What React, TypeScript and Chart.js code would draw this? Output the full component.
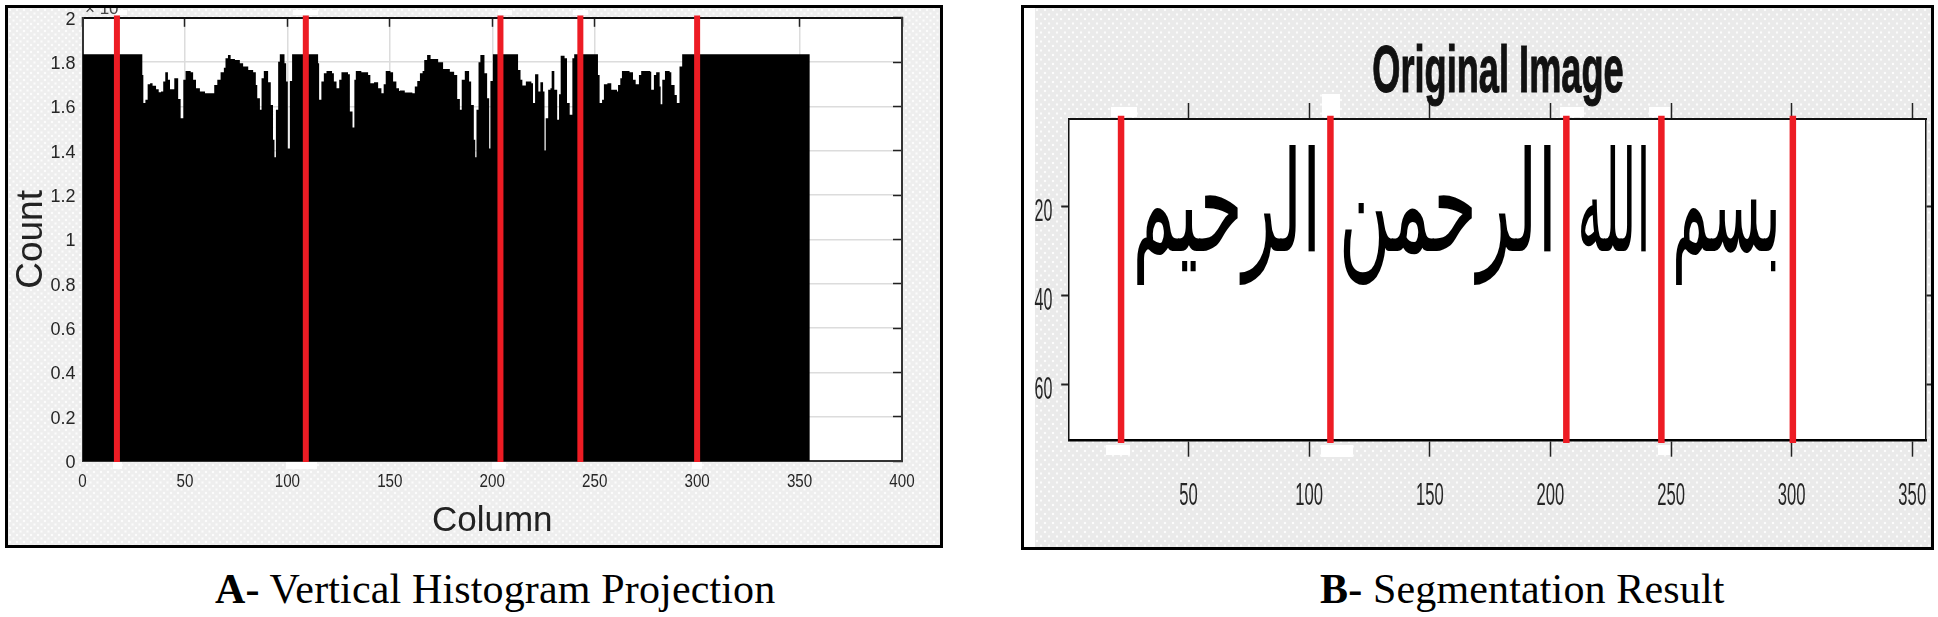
import React, { useEffect, useRef } from "react";
import { Chart, registerables } from "chart.js";

Chart.register(...registerables);

// ---------- data ----------
const histColumns = [0, 29.2, 29.7, 30.7, 31.8, 33, 34.2, 35.9, 37.2, 38.3, 39.4, 40.4, 41.7, 42.7, 44.8, 46.7, 47.9, 49.2, 50.3, 52.8, 54, 55.4, 57.3, 59.8, 63, 64.3, 65.8, 67.4, 69, 69.8, 71, 72.3, 74.4,
  76.8, 78.4, 80.9, 83.3, 84.6, 85.3, 86.6, 87.4, 88.5, 90.6, 91.9, 93, 93.7, 94.4, 95.5, 96.3, 98.6, 99.4, 100.2, 101.2, 102.3, 115, 115.5, 116.6, 117.8, 119.1, 121.8, 122.7, 124, 125.3, 126.4, 129.6, 130.5, 131.8, 132.7, 133.4, 136.1, 139.4, 140.5, 142.3, 144.3, 145.9, 147, 148, 150.3, 151.6, 153.2, 154.5,
  154.9, 157.3, 161, 162.2, 163.4, 164.7, 166, 166.8, 168.2, 169.9, 173.6, 176, 179.3, 181.4, 182.9, 184.2, 185.1, 186.6, 188.7, 189.7, 191, 191.7, 192.3, 193.3, 194.2, 196.2, 197.5, 198.5, 199.1, 200.3, 212.6, 213.8, 214.7, 216.4, 219.1, 219.9, 220.9, 222.5, 223.5, 224.8, 225.5, 226.1, 227.3, 228.4, 229, 230.3, 231.7, 232.6,
  233.4, 235.3, 236.5, 237.8, 239.1, 240, 251.6, 252.4, 253.6, 254.5, 256.2, 258.1, 260.9, 261.4, 262.5, 263.3, 267, 268.7, 270, 271.6, 272.7, 277.1, 277.6, 278.9, 280, 281.7, 282.2, 283, 284.3, 286.6, 287.4, 289, 290.1, 291.4, 292.7, 355];
const histCounts = [1.835, 1.742, 1.615, 1.63, 1.7, 1.705, 1.693, 1.678, 1.664, 1.667, 1.712, 1.754, 1.72, 1.678, 1.727, 1.634, 1.547, 1.72, 1.76, 1.754, 1.72, 1.682, 1.667, 1.66, 1.66, 1.697, 1.72, 1.754, 1.775, 1.817, 1.832, 1.814, 1.81,
  1.795, 1.78, 1.765, 1.754, 1.697, 1.637, 1.585, 1.727, 1.76, 1.709, 1.607, 1.45, 1.371, 1.585, 1.802, 1.835, 1.795, 1.712, 1.41, 1.715, 1.835, 1.795, 1.63, 1.712, 1.75, 1.76, 1.75, 1.712, 1.682, 1.72, 1.754, 1.745, 1.577, 1.505, 1.72, 1.76, 1.754, 1.742, 1.705, 1.709, 1.682, 1.66, 1.7, 1.76, 1.754, 1.712, 1.682, 1.67,
  1.672, 1.663, 1.66, 1.69, 1.715, 1.75, 1.76, 1.81, 1.832, 1.814, 1.799, 1.769, 1.757, 1.742, 1.634, 1.585, 1.72, 1.76, 1.712, 1.607, 1.45, 1.371, 1.585, 1.799, 1.832, 1.75, 1.637, 1.41, 1.715, 1.835, 1.765, 1.72, 1.694, 1.712, 1.705, 1.615, 1.745, 1.667, 1.709, 1.667, 1.401, 1.547, 1.675, 1.682, 1.76, 1.675, 1.54, 1.655,
  1.829, 1.817, 1.615, 1.562, 1.817, 1.835, 1.742, 1.615, 1.63, 1.7, 1.705, 1.675, 1.667, 1.697, 1.727, 1.76, 1.754, 1.72, 1.7, 1.742, 1.76, 1.757, 1.675, 1.742, 1.754, 1.69, 1.61, 1.72, 1.76, 1.754, 1.697, 1.652, 1.615, 1.78, 1.835, 1.835];
const splitColumnsA = [16.8, 109, 204, 243, 300];
const splitColumnsB = [22, 108.8, 206.6, 246, 300.5];
const xTicksA = [0, 50, 100, 150, 200, 250, 300, 350, 400];
const yTicksA = [0, 0.2, 0.4, 0.6, 0.8, 1, 1.2, 1.4, 1.6, 1.8, 2];
const xTicksB = [50, 100, 150, 200, 250, 300, 350];
const yTicksB = [20, 40, 60];
const arabicWords = ["بسم", "الله", "الرحمن", "الرحيم"];
const wordStarts = [252, 212.6, 114.3, 28.6];
const wordEnds = [293.5, 239.5, 200.1, 102.4];
const wordBaseline = 30;

const RED = "#ed1c24";
const INK = "#262626";
const SANS = "'Liberation Sans', Arial, sans-serif";

function squeezed(ctx: any, text: string, x: number, y: number, font: string, sx: number, color = INK, stroke = 0) {
  ctx.save();
  ctx.translate(x, y);
  ctx.scale(sx, 1);
  ctx.font = font;
  ctx.fillStyle = color;
  ctx.strokeStyle = color;
  ctx.textAlign = "center";
  ctx.textBaseline = "alphabetic";
  ctx.fillText(text, 0, 0);
  if (stroke) {
    ctx.lineWidth = stroke;
    ctx.strokeText(text, 0, 0);
  }
  ctx.restore();
}

const whitePlot = {
  id: "whitePlot",
  beforeDraw(chart: any) {
    const { ctx, chartArea: a } = chart;
    ctx.save();
    ctx.fillStyle = "#fff";
    ctx.fillRect(a.left, a.top, a.right - a.left, a.bottom - a.top);
    ctx.restore();
  },
};

const panelAText = {
  id: "panelAText",
  afterDraw(chart: any) {
    const { ctx, scales } = chart;
    xTicksA.forEach((v) => squeezed(ctx, String(v), scales.x.getPixelForValue(v), 487, `18.5px ${SANS}`, 0.82));
    ctx.save();
    ctx.beginPath();
    ctx.rect(84, 8, 34, 6);
    ctx.clip();
    ctx.font = `17px ${SANS}`;
    ctx.fillStyle = "#444";
    ctx.textAlign = "left";
    ctx.fillText("× 10⁴", 85, 13.5);
    ctx.restore();
  },
};

const panelBText = {
  id: "panelBText",
  afterDraw(chart: any) {
    const { ctx, scales } = chart;
    const x = scales.x;
    const y = scales.y;
    // tall, squeezed tick labels
    xTicksB.forEach((v) => squeezed(ctx, String(v), x.getPixelForValue(v), 505, `32px ${SANS}`, 0.52));
    yTicksB.forEach((v) => squeezed(ctx, String(v), 33.5, y.getPixelForValue(v) + 14.5, `32px ${SANS}`, 0.5));
    // title
    squeezed(ctx, "Original Image", 488, 92, `bold 67px ${SANS}`, 0.54, "#111", 1.2);
    // the word image inside the plot
    ctx.save();
    ctx.font = "140px 'DejaVu Sans'";
    ctx.direction = "rtl";
    ctx.textAlign = "center";
    ctx.fillStyle = "#000";
    arabicWords.forEach((w, i) => {
      const l = x.getPixelForValue(wordStarts[i]);
      const r = x.getPixelForValue(wordEnds[i]);
      const m = ctx.measureText(w);
      const inkW = m.actualBoundingBoxLeft + m.actualBoundingBoxRight;
      ctx.save();
      ctx.translate((l + r) / 2, y.getPixelForValue(wordBaseline));
      ctx.scale((r - l) / inkW, 1);
      ctx.fillText(w, (m.actualBoundingBoxLeft - m.actualBoundingBoxRight) / 2, 0);
      ctx.restore();
    });
    ctx.restore();
  },
};

const fixedTicks = (vals: number[]) => (s: any) => {
  s.ticks = vals.map((value) => ({ value }));
};
const fixW = (w: number) => (s: any) => {
  s.width = w;
};
const fixH = (h: number) => (s: any) => {
  s.height = h;
};

const splitDataset = (c: number, lo: number, hi: number, width: number) => ({
  type: "line",
  data: [
    { x: c, y: lo },
    { x: c, y: hi },
  ],
  borderColor: RED,
  borderWidth: width,
  pointRadius: 0,
  fill: false,
  clip: false,
  order: 0,
});

function makeA(canvas: HTMLCanvasElement) {
  const border = { color: "#333", width: 2 };
  const x = { type: "linear", min: 0, max: 400 };
  const y = { type: "linear", min: 0, max: 2 };
  return new Chart(canvas, {
    type: "line",
    data: {
      datasets: [
        {
          data: histColumns.map((c, i) => ({ x: c, y: histCounts[i] })),
          stepped: true,
          fill: "origin",
          backgroundColor: "#000",
          borderColor: "#000",
          borderWidth: 0,
          pointRadius: 0,
          order: 1,
        },
        ...splitColumnsA.map((c) => splitDataset(c, -0.005, 2.01, 6)),
      ],
    } as any,
    options: {
      animation: false,
      responsive: false,
      devicePixelRatio: 1,
      layout: { padding: 0 },
      plugins: { legend: { display: false }, tooltip: { enabled: false } },
      scales: {
        x: {
          ...x,
          position: "bottom",
          afterFit: fixH(89),
          afterBuildTicks: fixedTicks(xTicksA),
          grid: { color: "#dcdcdc", lineWidth: 1.5, drawTicks: false },
          border,
          ticks: { display: false },
          title: { display: true, text: "Column", color: "#222", font: { family: SANS, size: 35 }, padding: { top: 0, bottom: 8 } },
        },
        x2: {
          ...x,
          position: "top",
          afterFit: fixH(16),
          afterBuildTicks: fixedTicks(xTicksA),
          grid: { drawOnChartArea: false, tickLength: -9, tickColor: "#222", tickWidth: 1.5 },
          border: { color: "#111", width: 2 },
          ticks: { display: false },
        },
        y: {
          ...y,
          position: "left",
          afterFit: fixW(82.5),
          afterBuildTicks: fixedTicks(yTicksA),
          grid: { color: "#dcdcdc", lineWidth: 1.5, drawTicks: false },
          border,
          ticks: { color: INK, padding: 7, labelOffset: 2, font: { family: SANS, size: 18 }, callback: (v: any) => String(v) },
          title: { display: true, text: "Count", color: "#222", font: { family: SANS, size: 37 }, padding: { top: 10, bottom: 0 } },
        },
        y2: {
          ...y,
          position: "right",
          afterFit: fixW(48),
          afterBuildTicks: fixedTicks(yTicksA),
          grid: { drawOnChartArea: false, tickLength: -9, tickColor: "#222", tickWidth: 1.5 },
          border,
          ticks: { display: false },
        },
      } as any,
    },
    plugins: [whitePlot, panelAText],
  } as any);
}

function makeB(canvas: HTMLCanvasElement) {
  const x = { type: "linear", min: 0.5, max: 355.7 };
  const y = { type: "linear", min: 0.5, max: 72.5, reverse: true };
  const tick = { drawOnChartArea: false, tickColor: "#222", tickWidth: 1.5 };
  return new Chart(canvas, {
    type: "line",
    data: {
      datasets: splitColumnsB.map((c) => splitDataset(c, -0.2, 73, 6.5)),
    } as any,
    options: {
      animation: false,
      responsive: false,
      devicePixelRatio: 1,
      layout: { padding: 0 },
      plugins: { legend: { display: false }, tooltip: { enabled: false } },
      scales: {
        x: {
          ...x,
          position: "bottom",
          afterFit: fixH(109.3),
          afterBuildTicks: fixedTicks(xTicksB),
          grid: { ...tick, tickLength: 16 },
          border: { color: "#000", width: 2.5 },
          ticks: { display: false },
        },
        x2: {
          ...x,
          position: "top",
          afterFit: fixH(119),
          afterBuildTicks: fixedTicks(xTicksB),
          grid: { ...tick, tickLength: 16 },
          border: { color: "#111", width: 2 },
          ticks: { display: false },
        },
        y: {
          ...y,
          position: "left",
          afterFit: fixW(59.2),
          afterBuildTicks: fixedTicks(yTicksB),
          grid: { ...tick, tickLength: 8, tickWidth: 2 },
          border: { color: "#111", width: 1.5 },
          ticks: { display: false },
        },
        y2: {
          ...y,
          position: "right",
          afterFit: fixW(12),
          afterBuildTicks: fixedTicks(yTicksB),
          grid: { ...tick, tickLength: 5, tickWidth: 2 },
          border: { color: "#111", width: 1.5 },
          ticks: { display: false },
        },
      } as any,
    },
    plugins: [whitePlot, panelBText],
  } as any);
}

const dot = "radial-gradient(circle at 2px 2px, #fcfcfc 1px, transparent 1.6px)";
const hatchA: React.CSSProperties = {
  backgroundColor: "#eeeeee",
  backgroundImage: `${dot}, ${dot}`,
  backgroundSize: "7px 7px, 7px 7px",
  backgroundPosition: "0 0, 3.5px 3.5px",
};
const hatchB: React.CSSProperties = {
  backgroundColor: "#eaeaea",
  backgroundImage: `${dot}, ${dot}`,
  backgroundSize: "8px 9px, 8px 9px",
  backgroundPosition: "0 0, 4px 4.5px",
};

const stubsA = [
  [115, 10, 12, 5], [293, 10, 25, 5], [498, 10, 14, 5], [573, 10, 15, 5],
  [113, 462, 9, 7], [286, 462, 31, 7], [492, 462, 14, 7], [692, 462, 10, 7],
];
const stubsB = [
  [1111, 107, 26, 10], [1322, 94, 18, 23], [1560, 107, 24, 10], [1649, 107, 21, 10],
  [1106, 445, 24, 10], [1321, 445, 32, 12], [1658, 445, 12, 10],
];

const Stub = ({ r }: { r: number[] }) => (
  <div style={{ position: "absolute", left: r[0], top: r[1], width: r[2], height: r[3], background: "#fff" }} />
);

const captionStyle: React.CSSProperties = {
  position: "absolute",
  top: 568,
  font: "42px/42px 'Liberation Serif', 'Times New Roman', serif",
  letterSpacing: "0.15px",
  color: "#000",
  whiteSpace: "nowrap",
};

export default function App() {
  const a = useRef<HTMLCanvasElement>(null);
  const b = useRef<HTMLCanvasElement>(null);
  useEffect(() => {
    const ca = makeA(a.current!);
    const cb = makeB(b.current!);
    return () => {
      ca.destroy();
      cb.destroy();
    };
  }, []);
  return (
    <div style={{ position: "fixed", left: 0, top: 0, width: 1938, height: 617, background: "#fff", overflow: "hidden" }}>
      <div style={{ ...hatchA, position: "absolute", left: 5, top: 5, width: 938, height: 543, boxSizing: "border-box", border: "3.5px solid #000" }} />
      <div style={{ position: "absolute", left: 1021, top: 5, width: 913, height: 545, boxSizing: "border-box", border: "3.5px solid #000", background: "#fff" }}>
        <div style={{ ...hatchB, position: "absolute", left: 11, top: 0, right: 0, bottom: 0 }} />
      </div>
      {stubsA.map((r, i) => <Stub key={i} r={r} />)}
      {stubsB.map((r, i) => <Stub key={i} r={r} />)}
      <canvas ref={a} width={950} height={550} style={{ position: "absolute", left: 0, top: 0, display: "block" }} />
      <canvas ref={b} width={928} height={550} style={{ position: "absolute", left: 1010, top: 0, display: "block" }} />
      <div style={{ ...captionStyle, left: 215 }}><b>A-</b> Vertical Histogram Projection</div>
      <div style={{ ...captionStyle, left: 1320 }}><b>B-</b> Segmentation Result</div>
    </div>
  );
}
